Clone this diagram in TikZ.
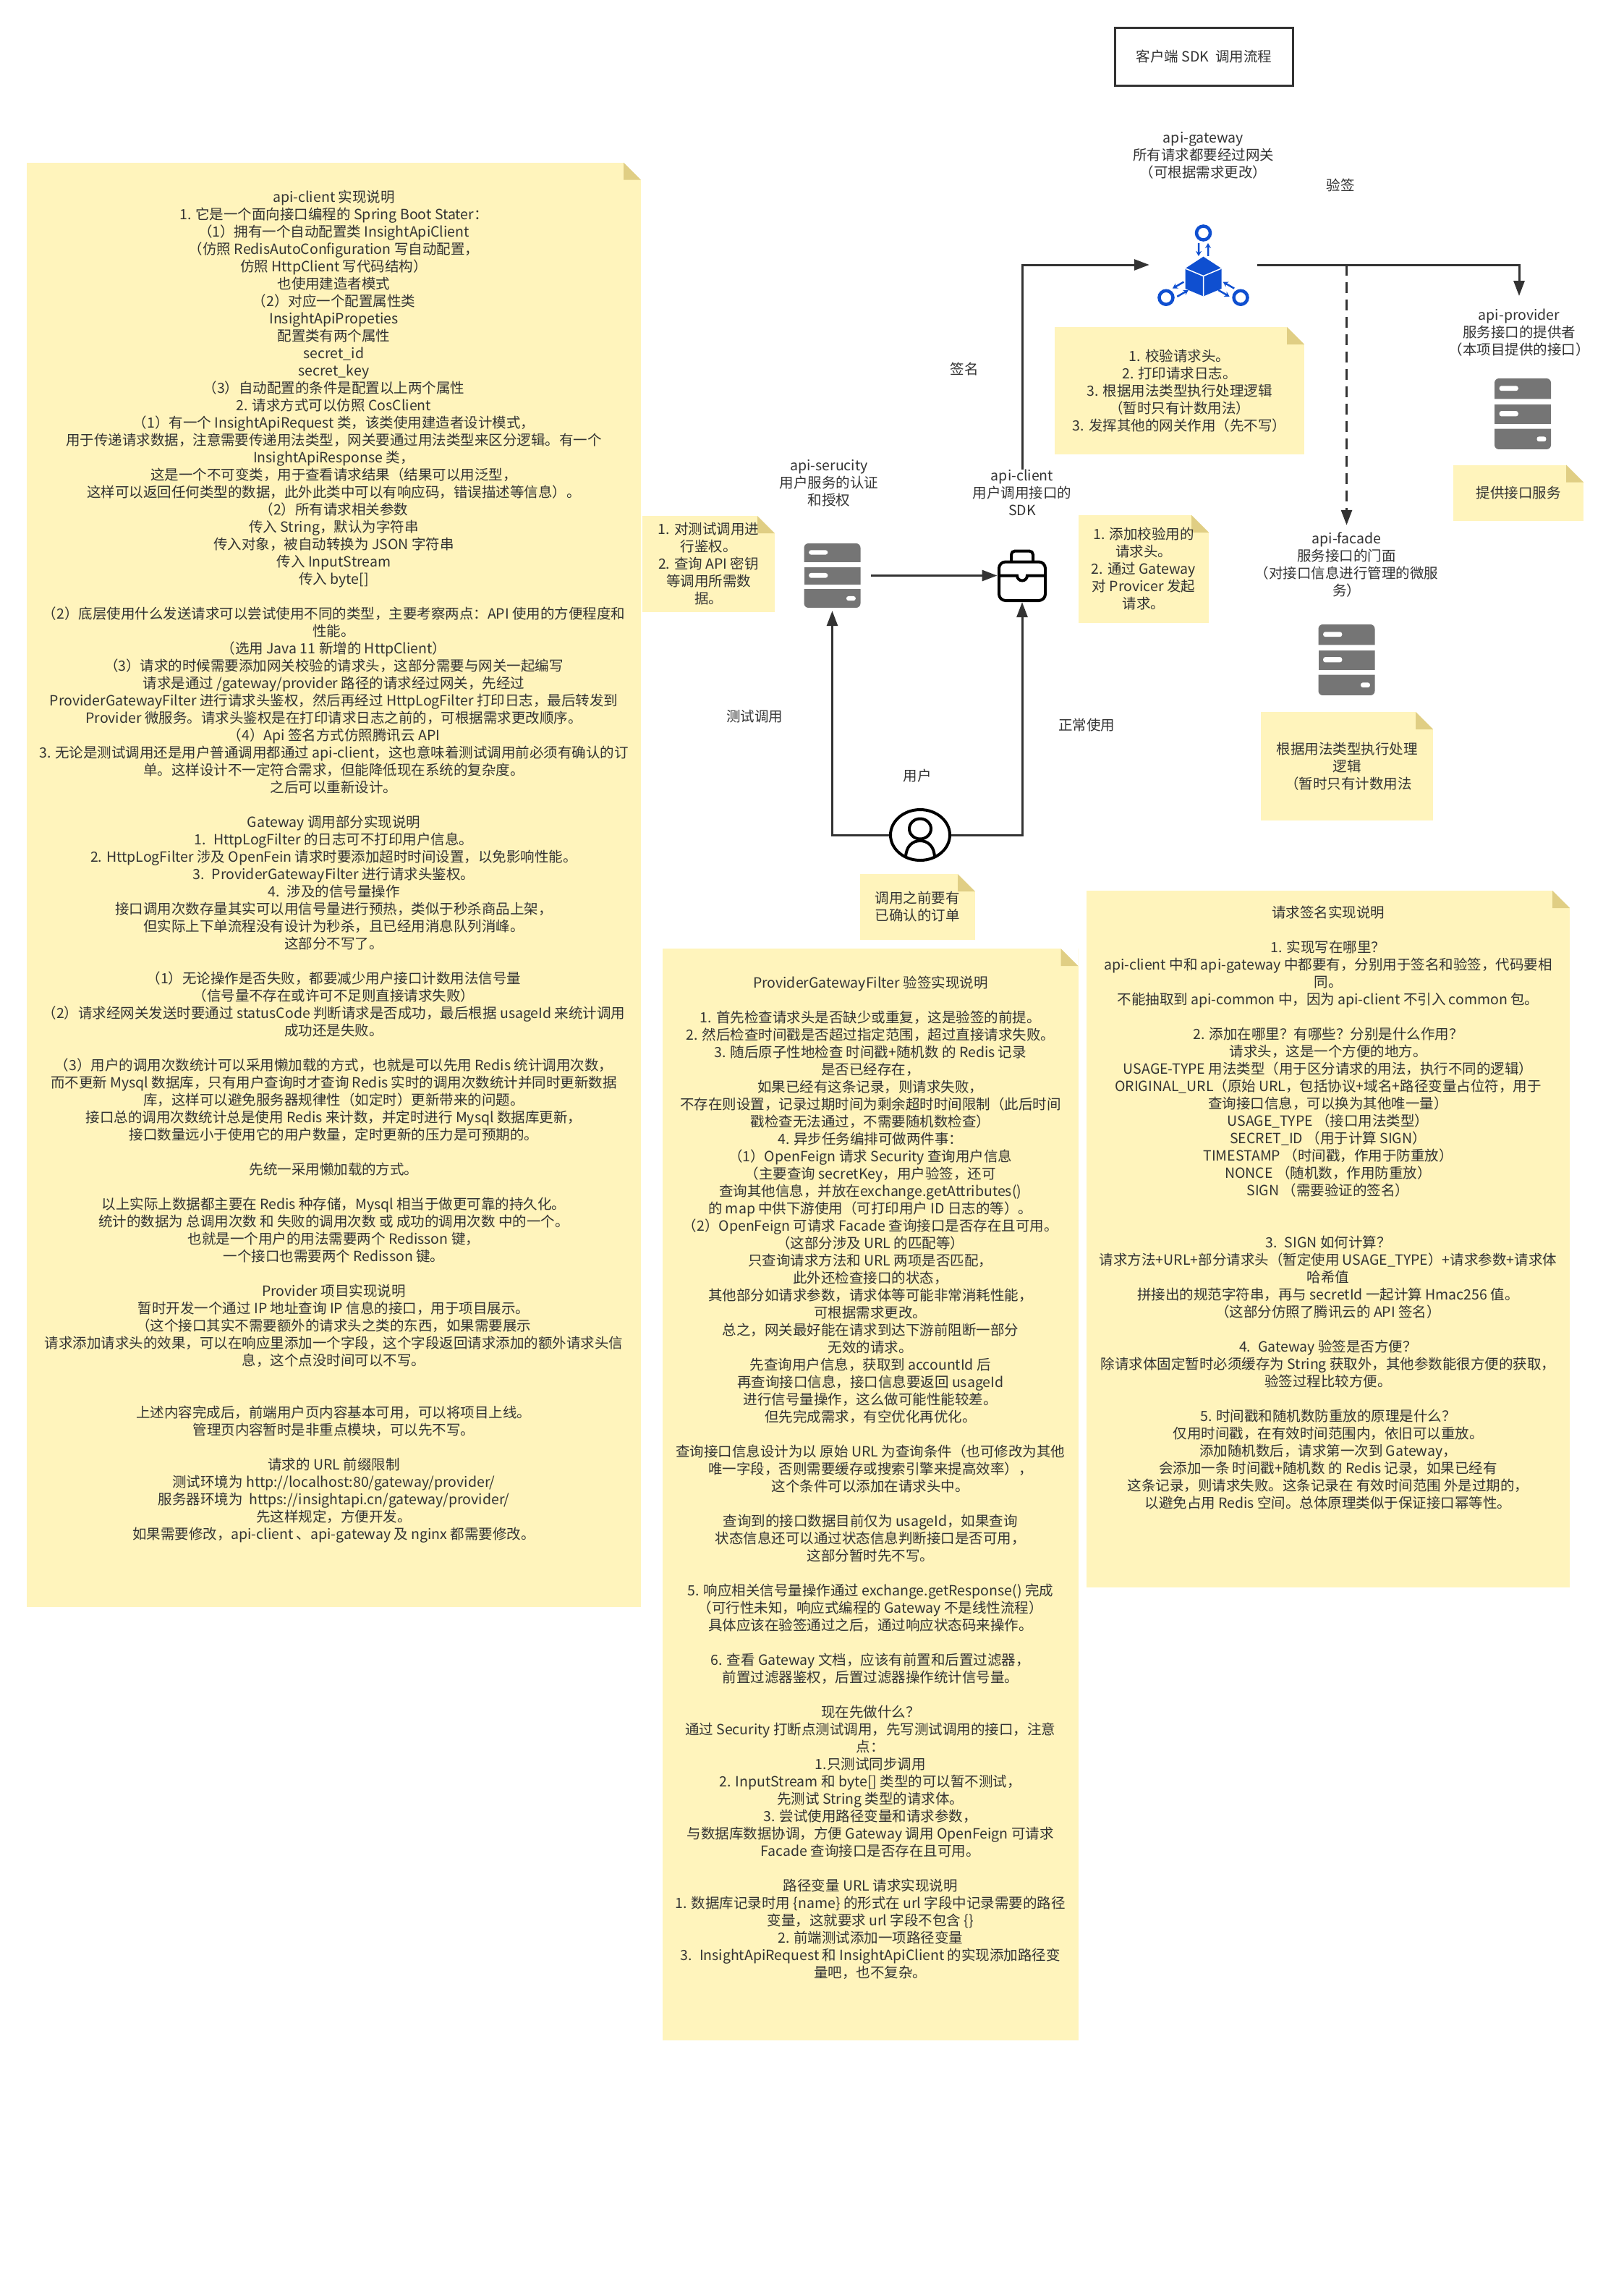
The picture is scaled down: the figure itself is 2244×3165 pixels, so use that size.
\documentclass[tikz,border=0pt]{standalone}
\usepackage{fontspec}
\setmainfont{Noto Sans CJK SC}
\usetikzlibrary{shapes,arrows.meta,positioning}
\definecolor{notefill}{HTML}{FFF4BC}
\definecolor{notefold}{HTML}{E0CE84}
\definecolor{ink}{HTML}{333333}
\definecolor{servergray}{HTML}{757575}
\definecolor{gatewayblue}{HTML}{0F4FD0}

\newcommand{\gwspoke}[1]{%
  \path (0,-15.5) ++(90+#1:59.5) coordinate (ringPoint)
        (0,-15.5) ++(98.1+#1:46) coordinate (outA)
        (0,-15.5) ++(103.3+#1:28.3) coordinate (inA)
        (0,-15.5) ++(76.7+#1:28.3) coordinate (inB)
        (0,-15.5) ++(81.9+#1:46) coordinate (outB);
  \draw[gatewayblue, line width=4.5pt] (ringPoint) circle (9.5pt);
  \draw[gatewayblue, line width=2.5pt, -{Stealth[length=7pt,width=8pt]}] (outA) -- (inA);
  \draw[gatewayblue, line width=2.5pt, -{Stealth[length=7pt,width=8pt]}] (inB) -- (outB);}

\tikzstyle{note} = [rectangle, fill=notefill, text=ink, align=center, inner sep=0pt,
    font=\fontsize{19.5}{24}\selectfont,
    path picture={
      \fill[white] ([xshift=-24pt]path picture bounding box.north east)
        -- (path picture bounding box.north east)
        -- ([yshift=-24pt]path picture bounding box.north east) -- cycle;
      \fill[notefold] ([xshift=-24pt]path picture bounding box.north east)
        -- ([yshift=-24pt]path picture bounding box.north east)
        -- ([xshift=-24pt,yshift=-24pt]path picture bounding box.north east) -- cycle;
    }]
\tikzstyle{caption} = [text=ink, align=center, inner sep=0pt, font=\fontsize{19.5}{24}\selectfont]
\tikzstyle{titlebox} = [rectangle, draw=ink, line width=3pt, caption, minimum width=246pt, minimum height=80pt]
\tikzstyle{flow} = [draw, ink, line width=3pt, -{Triangle[length=21pt,width=15pt]}]
\tikzset{server/.style={rectangle, inner sep=0pt, minimum width=78pt, minimum height=#1*1pt,
    path picture={
      \begin{scope}[shift={(path picture bounding box.center)}, x=0.78pt, y=#1*0.01pt]
        \fill[servergray] (-50,21) [rounded corners=6pt] -- (-50,50) -- (50,50) [sharp corners] -- (50,21) -- cycle;
        \fill[servergray] (-50,-14.5) rectangle (50,13.5);
        \fill[servergray] (-50,-21) [rounded corners=6pt] -- (-50,-50) -- (50,-50) [sharp corners] -- (50,-21) -- cycle;
        \fill[white, rounded corners=3pt] (-41.5,32.5) rectangle (-8,39.5);
        \fill[white, rounded corners=3pt] (-41.5,-3.5) rectangle (-8,4);
        \fill[white, rounded corners=3pt] (25,-39) rectangle (41.5,-32);
      \end{scope}
    }}}
\tikzstyle{gatewayicon} = [rectangle, inner sep=0pt, minimum width=149pt, minimum height=149pt,
    path picture={
      \begin{scope}[shift={(path picture bounding box.center)}, x=1pt, y=1pt]
        \fill[gatewayblue] (0,11.3) -- (25,-5) -- (25,-33) -- (0,-43.5) -- (-25,-33) -- (-25,-5) -- cycle;
        \draw[white, line width=1.5pt] (-25,-5) -- (0,-15.5) -- (25,-5) (0,-15.5) -- (0,-43.5);
        \gwspoke{0}
        \gwspoke{120}
        \gwspoke{240}
      \end{scope}
    }]
\tikzstyle{clienticon} = [rectangle, inner sep=0pt, minimum width=68.5pt, minimum height=73pt,
    path picture={
      \begin{scope}[shift={(path picture bounding box.center)}, x=1pt, y=1pt, black, line width=4pt]
        \draw[rounded corners=9pt] (-32,19) rectangle (32,-34.5);
        \draw[rounded corners=5pt] (-15,19) -- (-15,34) -- (15,34) -- (15,19);
        \draw (-32,0) -- (-7,0) arc (180:360:7) -- (32,0);
      \end{scope}
    }]
\tikzstyle{usericon} = [ellipse, draw=black, line width=4pt, inner sep=0pt, minimum width=82pt, minimum height=70pt,
    path picture={
      \begin{scope}[shift={(path picture bounding box.center)}, x=1pt, y=1pt, black, line width=4pt]
        \draw (0,8.5) ellipse (15pt and 14pt);
        \draw (-20,-32) .. controls (-20,-15) and (-10,-8) .. (0,-8) .. controls (10,-8) and (20,-15) .. (20,-32);
      \end{scope}
    }]

\begin{document}
\begin{tikzpicture}[x=1pt, y=-1pt]
    \useasboundingbox (0,0) rectangle (2244,3165);

    \node[titlebox] (title) at (1664.5,78.5) {客户端 SDK~~调用流程};

    \node[gatewayicon] (gateway) at (1663.5,366) {};
    \node[server=98] (provider) at (2105,572) {};
    \node[server=98] (facade) at (1861.5,912) {};
    \node[server=89] (security) at (1150.5,795.5) {};
    \node[clienticon] (client) at (1413,795.5) {};
    \node[usericon] (user) at (1272,1154) {};

    \node[caption, above=44pt of gateway] (gatewayLabel) {api-gateway\\所有请求都要经过网关\\（可根据需求更改）};
    \node[caption, above=30pt of provider, xshift=-5pt] (providerLabel) {api-provider\\服务接口的提供者\\（本项目提供的接口）};
    \node[caption, above=37pt of facade] (facadeLabel) {api-facade\\服务接口的门面\\（对接口信息进行管理的微服\\务）};
    \node[caption, above=50pt of security, xshift=-4.5pt] (securityLabel) {api-serucity\\用户服务的认证\\和授权};
    \node[caption, above=46pt of client] (clientLabel) {api-client\\用户调用接口的\\SDK};
    \node[caption, above=36pt of user, xshift=-4pt] (userLabel) {用户};

    \node[caption] (verifyText) at (1853,256) {验签};
    \node[caption] (signText) at (1333,510.5) {签名};
    \node[caption] (testText) at (1043,990.5) {测试调用};
    \node[caption] (normalText) at (1502,1002.5) {正常使用};

    \node[note, minimum width=345pt, minimum height=176pt] (gatewayNote) at (1630.5,540)
      {1. 校验请求头。\\2. 打印请求日志。\\3. 根据用法类型执行处理逻辑\\（暂时只有计数用法）\\3. 发挥其他的网关作用（先不写）};
    \node[note, minimum width=180pt, minimum height=77pt] (providerNote) at (2099,681) {提供接口服务};
    \node[note, minimum width=238pt, minimum height=150pt] (facadeNote) at (1862,1059)
      {根据用法类型执行处理\\逻辑\\~（暂时只有计数用法};
    \node[note, minimum width=183pt, minimum height=133pt] (securityNote) at (979.5,779.5)
      {1. 对测试调用进\\行鉴权。\\2. 查询 API 密钥\\等调用所需数\\据。};
    \node[note, minimum width=180pt, minimum height=149pt] (clientNote) at (1581,786.5)
      {1. 添加校验用的\\请求头。\\2. 通过 Gateway\\对 Provicer 发起\\请求。};
    \node[note, minimum width=159.5pt, minimum height=90.5pt] (userNote) at (1268.25,1253.3)
      {调用之前要有\\已确认的订单};

    \node[note, minimum width=849pt, minimum height=1996pt] (clientDoc) at (461.5,1222.7) {api-client 实现说明\\
1. 它是一个面向接口编程的 Spring Boot Stater：\\
（1）拥有一个自动配置类 InsightApiClient\\
（仿照 RedisAutoConfiguration 写自动配置，\\
仿照 HttpClient 写代码结构）\\
也使用建造者模式\\
（2）对应一个配置属性类\\
InsightApiPropeties\\
配置类有两个属性\\
secret\_id\\
secret\_key\\
（3）自动配置的条件是配置以上两个属性\\
2. 请求方式可以仿照 CosClient\\
（1）有一个 InsightApiRequest 类，该类使用建造者设计模式，\\
用于传递请求数据，注意需要传递用法类型，网关要通过用法类型来区分逻辑。有一个\\
InsightApiResponse 类，\\
这是一个不可变类，用于查看请求结果（结果可以用泛型，\\
这样可以返回任何类型的数据，此外此类中可以有响应码，错误描述等信息）。\\
（2）所有请求相关参数\\
传入 String，默认为字符串\\
传入对象，被自动转换为 JSON 字符串\\
传入 InputStream\\
传入 byte[]\\
~\\
（2）底层使用什么发送请求可以尝试使用不同的类型，主要考察两点：API 使用的方便程度和\\
性能。\\
（选用 Java 11 新增的 HttpClient）\\
（3）请求的时候需要添加网关校验的请求头，这部分需要与网关一起编写\\
请求是通过 /gateway/provider 路径的请求经过网关，先经过\\
ProviderGatewayFilter 进行请求头鉴权，然后再经过 HttpLogFilter 打印日志，最后转发到\\
Provider 微服务。请求头鉴权是在打印请求日志之前的，可根据需求更改顺序。\\
（4）Api 签名方式仿照腾讯云 API\\
3. 无论是测试调用还是用户普通调用都通过 api-client，这也意味着测试调用前必须有确认的订\\
单。这样设计不一定符合需求，但能降低现在系统的复杂度。\\
之后可以重新设计。\\
~\\
Gateway 调用部分实现说明\\
1.~ HttpLogFilter 的日志可不打印用户信息。\\
2. HttpLogFilter 涉及 OpenFein 请求时要添加超时时间设置，以免影响性能。\\
3.~ ProviderGatewayFilter 进行请求头鉴权。\\
4.~ 涉及的信号量操作\\
接口调用次数存量其实可以用信号量进行预热，类似于秒杀商品上架，\\
但实际上下单流程没有设计为秒杀，且已经用消息队列消峰。\\
这部分不写了。\\
~\\
（1）无论操作是否失败，都要减少用户接口计数用法信号量\\
（信号量不存在或许可不足则直接请求失败）\\
（2）请求经网关发送时要通过 statusCode 判断请求是否成功，最后根据 usageId 来统计调用\\
成功还是失败。\\
~\\
（3）用户的调用次数统计可以采用懒加载的方式，也就是可以先用 Redis 统计调用次数，\\
而不更新 Mysql 数据库，只有用户查询时才查询 Redis 实时的调用次数统计并同时更新数据\\
库，这样可以避免服务器规律性（如定时）更新带来的问题。\\
接口总的调用次数统计总是使用 Redis 来计数，并定时进行 Mysql 数据库更新，\\
接口数量远小于使用它的用户数量，定时更新的压力是可预期的。\\
~\\
先统一采用懒加载的方式。\\
~\\
以上实际上数据都主要在 Redis 种存储，Mysql 相当于做更可靠的持久化。\\
统计的数据为 总调用次数 和 失败的调用次数 或 成功的调用次数 中的一个。\\
也就是一个用户的用法需要两个 Redisson 键，\\
一个接口也需要两个 Redisson 键。\\
~\\
Provider 项目实现说明\\
暂时开发一个通过 IP 地址查询 IP 信息的接口，用于项目展示。\\
（这个接口其实不需要额外的请求头之类的东西，如果需要展示\\
请求添加请求头的效果，可以在响应里添加一个字段，这个字段返回请求添加的额外请求头信\\
息，这个点没时间可以不写。\\
~\\
~\\
上述内容完成后，前端用户页内容基本可用，可以将项目上线。\\
管理页内容暂时是非重点模块，可以先不写。\\
~\\
请求的 URL 前缀限制\\
测试环境为 http://localhost:80/gateway/provider/\\
服务器环境为~ https://insightapi.cn/gateway/provider/\\
先这样规定，方便开发。\\
如果需要修改，api-client 、api-gateway 及 nginx 都需要修改。\\
~\\[6pt]
~};

    \node[note, minimum width=574.5pt, minimum height=1509pt] (filterDoc) at (1203.25,2065.5) {ProviderGatewayFilter 验签实现说明\\
~\\
1. 首先检查请求头是否缺少或重复，这是验签的前提。\\
2. 然后检查时间戳是否超过指定范围，超过直接请求失败。\\
3. 随后原子性地检查 时间戳+随机数 的 Redis 记录\\
是否已经存在，\\
如果已经有这条记录，则请求失败，\\
不存在则设置，记录过期时间为剩余超时时间限制（此后时间\\
戳检查无法通过，不需要随机数检查）\\
4. 异步任务编排可做两件事：\\
（1）OpenFeign 请求 Security 查询用户信息\\
（主要查询 secretKey，用户验签，还可\\
查询其他信息，并放在exchange.getAttributes()\\
的 map 中供下游使用（可打印用户 ID 日志的等）。\\
（2）OpenFeign 可请求 Facade 查询接口是否存在且可用。\\
（这部分涉及 URL 的匹配等）\\
只查询请求方法和 URL 两项是否匹配，\\
此外还检查接口的状态，\\
其他部分如请求参数，请求体等可能非常消耗性能，\\
可根据需求更改。\\
总之，网关最好能在请求到达下游前阻断一部分\\
无效的请求。\\
先查询用户信息，获取到 accountId 后\\
再查询接口信息，接口信息要返回 usageId\\
进行信号量操作，这么做可能性能较差。\\
但先完成需求，有空优化再优化。\\
~\\
查询接口信息设计为以 原始 URL 为查询条件（也可修改为其他\\
唯一字段，否则需要缓存或搜索引擎来提高效率），\\
这个条件可以添加在请求头中。\\
~\\
查询到的接口数据目前仅为 usageId，如果查询\\
状态信息还可以通过状态信息判断接口是否可用，\\
这部分暂时先不写。\\
~\\
5. 响应相关信号量操作通过 exchange.getResponse() 完成\\
（可行性未知，响应式编程的 Gateway 不是线性流程）\\
具体应该在验签通过之后，通过响应状态码来操作。\\
~\\
6. 查看 Gateway 文档，应该有前置和后置过滤器，\\
前置过滤器鉴权，后置过滤器操作统计信号量。\\
~\\
现在先做什么？\\
通过 Security 打断点测试调用，先写测试调用的接口，注意\\
点：\\
1.只测试同步调用\\
2. InputStream 和 byte[] 类型的可以暂不测试，\\
先测试 String 类型的请求体。\\
3. 尝试使用路径变量和请求参数，\\
与数据库数据协调，方便 Gateway 调用 OpenFeign 可请求\\
Facade 查询接口是否存在且可用。\\
~\\
路径变量 URL 请求实现说明\\
1. 数据库记录时用 \{name\} 的形式在 url 字段中记录需要的路径\\
变量，这就要求 url 字段不包含 \{\}\\
2. 前端测试添加一项路径变量\\
3.~ InsightApiRequest 和 InsightApiClient 的实现添加路径变\\
量吧，也不复杂。\\
~\\
~};

    \node[note, minimum width=668pt, minimum height=963pt] (signDoc) at (1836,1712.5) {请求签名实现说明\\
~\\
1. 实现写在哪里？\\
api-client 中和 api-gateway 中都要有，分别用于签名和验签，代码要相\\
同。\\
不能抽取到 api-common 中，因为 api-client 不引入 common 包。\\
~\\
2. 添加在哪里？有哪些？分别是什么作用？\\
请求头，这是一个方便的地方。\\
USAGE-TYPE 用法类型（用于区分请求的用法，执行不同的逻辑）\\
ORIGINAL\_URL（原始 URL，包括协议+域名+路径变量占位符，用于\\
查询接口信息，可以换为其他唯一量）\\
USAGE\_TYPE （接口用法类型）\\
SECRET\_ID （用于计算 SIGN）\\
TIMESTAMP （时间戳，作用于防重放）\\
NONCE （随机数，作用防重放）\\
SIGN （需要验证的签名）\\
~\\
~\\
3.~ SIGN 如何计算？\\
请求方法+URL+部分请求头（暂定使用 USAGE\_TYPE）+请求参数+请求体\\
哈希值\\
拼接出的规范字符串，再与 secretId 一起计算 Hmac256 值。\\
（这部分仿照了腾讯云的 API 签名）\\
~\\
4.~ Gateway 验签是否方便？\\
除请求体固定暂时必须缓存为 String 获取外，其他参数能很方便的获取，\\
验签过程比较方便。\\
~\\
5. 时间戳和随机数防重放的原理是什么？\\
仅用时间戳，在有效时间范围内，依旧可以重放。\\
添加随机数后，请求第一次到 Gateway，\\
会添加一条 时间戳+随机数 的 Redis 记录，如果已经有\\
这条记录，则请求失败。这条记录在 有效时间范围 外是过期的，\\
以避免占用 Redis 空间。总体原理类似于保证接口幂等性。\\
~\\
~\\
~\\[-8pt]
~};

    \coordinate (verifyPoint) at (facadeLabel.north |- gateway.east);

    \path[flow, shorten <=14pt] (security.east) -- (client.west);
    \path[flow, shorten >=4pt] (user.west) -| (security.south);
    \path[flow] (user.east) -| (client.south);
    \path[flow] (clientLabel.north) |- (gateway.west);
    \path[flow, shorten >=18pt] (gateway.east) -| (providerLabel.north);
    \path[flow, dashed, dash pattern=on 15pt off 9pt, shorten >=10pt] (verifyPoint) -- (facadeLabel.north);
\end{tikzpicture}
\end{document}
